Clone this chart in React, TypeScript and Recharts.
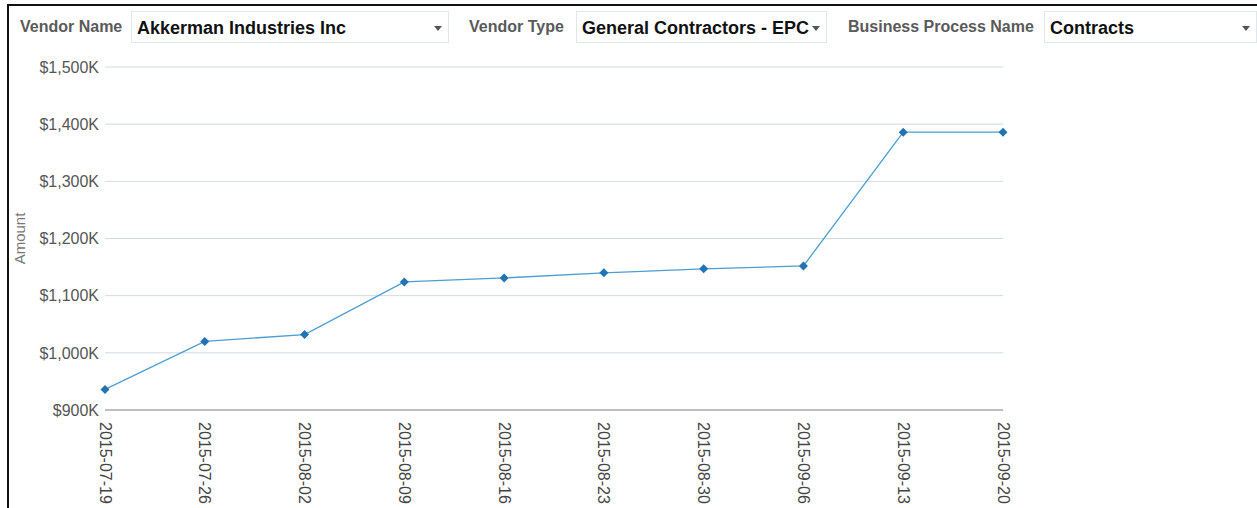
import React from "react";
import { LineChart, Line, XAxis, YAxis, CartesianGrid } from "recharts";

// weekly dates and amounts (in $K)
const weeks = [
  "2015-07-19", "2015-07-26", "2015-08-02", "2015-08-09", "2015-08-16",
  "2015-08-23", "2015-08-30", "2015-09-06", "2015-09-13", "2015-09-20",
];
const amounts = [936, 1020, 1032, 1124, 1131, 1140, 1147, 1152, 1386, 1386];
const yTicks = [900, 1000, 1100, 1200, 1300, 1400, 1500];

const data = weeks.map((w, i) => ({ week: w, amount: amounts[i] }));

const FONT = '"Liberation Sans", Arial, sans-serif';

const XTick = (props: any) => {
  const { x, y, payload } = props;
  return (
    <text
      x={x}
      y={y}
      transform={`rotate(90 ${x} ${y})`}
      textAnchor="start"
      dominantBaseline="central"
      fontSize={16}
      fill="#444"
      fontFamily={FONT}
    >
      {payload.value}
    </text>
  );
};

const Diamond = (props: any) => {
  const { cx, cy, index } = props;
  const r = 4.5;
  return (
    <path
      key={index}
      d={`M${cx},${cy - r}L${cx + r},${cy}L${cx},${cy + r}L${cx - r},${cy}Z`}
      fill="#2273b3"
    />
  );
};

const Select = ({ left, width, value }: { left: number; width: number; value: string }) => (
  <div
    style={{
      position: "absolute",
      left,
      top: 11,
      width,
      height: 32,
      boxSizing: "border-box",
      border: "1px solid #e1e6ea",
      background: "#fff",
    }}
  >
    <span
      style={{
        position: "absolute",
        left: 5,
        top: 6,
        fontSize: 18,
        fontWeight: 700,
        color: "#111",
        whiteSpace: "nowrap",
      }}
    >
      {value}
    </span>
    <div
      style={{
        position: "absolute",
        right: 6,
        top: 14,
        width: 0,
        height: 0,
        borderLeft: "4px solid transparent",
        borderRight: "4px solid transparent",
        borderTop: "5px solid #555",
      }}
    />
  </div>
);

const Label = ({ left, text }: { left: number; text: string }) => (
  <span
    style={{
      position: "absolute",
      left,
      top: 18,
      fontSize: 16,
      fontWeight: 700,
      color: "#5a5a5a",
      whiteSpace: "nowrap",
    }}
  >
    {text}
  </span>
);

export default function App() {
  return (
    <div
      style={{
        position: "absolute",
        left: 0,
        top: 0,
        width: 1257,
        height: 508,
        overflow: "hidden",
        background: "#fff",
        fontFamily: FONT,
      }}
    >
      <div style={{ position: "absolute", left: 0, top: 0 }}>
        <LineChart
          width={1257}
          height={508}
          data={data}
          margin={{ top: 67, right: 254, left: 0, bottom: 0 }}
        >
          <CartesianGrid vertical={false} stroke="#cfdbe4" />
          <XAxis
            dataKey="week"
            height={98}
            tickLine={false}
            axisLine={{ stroke: "#bfbfbf", strokeWidth: 2 }}
            tick={<XTick />}
            tickSize={8}
            tickMargin={4}
            interval={0}
          />
          <YAxis
            width={105}
            domain={[900, 1500]}
            ticks={yTicks}
            tickLine={false}
            axisLine={false}
            tickFormatter={(v: number) => `$${v.toLocaleString("en-US")}K`}
            tick={{ fontSize: 16, fill: "#555", fontFamily: FONT }}
            tickSize={4}
            label={{
              value: "Amount",
              angle: -90,
              position: "insideLeft",
              offset: 20,
              style: { fontSize: 15, fill: "#777", fontFamily: FONT, textAnchor: "middle" },
            }}
          />
          <Line
            dataKey="amount"
            stroke="#4b9ed1"
            strokeWidth={1.3}
            dot={<Diamond />}
            activeDot={false}
            isAnimationActive={false}
          />
        </LineChart>
      </div>

      <div
        style={{
          position: "absolute",
          left: 7,
          top: 4,
          right: 0,
          bottom: 0,
          borderLeft: "2px solid #111",
          borderTop: "2px solid #111",
          pointerEvents: "none",
        }}
      />

      <Label left={20} text="Vendor Name" />
      <Select left={131} width={318} value="Akkerman Industries Inc" />
      <Label left={469} text="Vendor Type" />
      <Select left={576} width={251} value="General Contractors - EPC" />
      <Label left={848} text="Business Process Name" />
      <Select left={1044} width={213} value="Contracts" />
    </div>
  );
}
